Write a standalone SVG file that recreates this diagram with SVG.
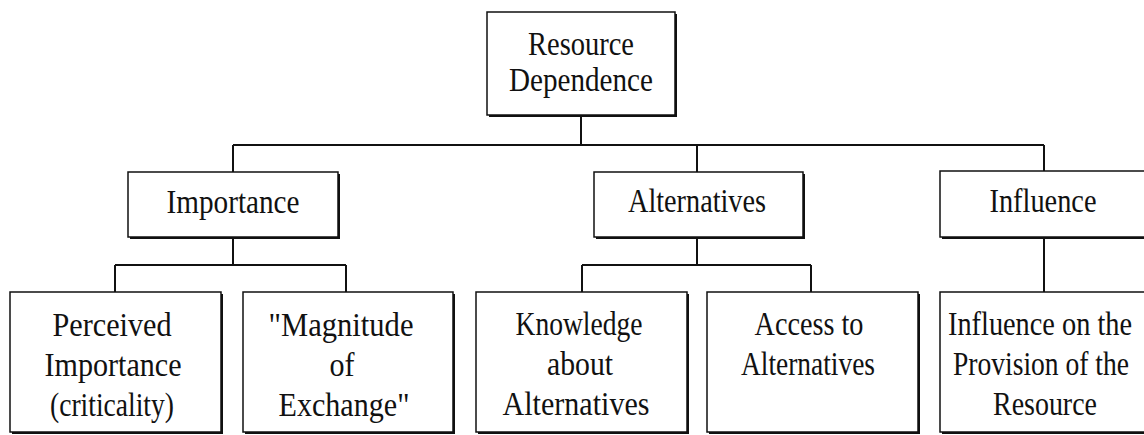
<svg xmlns="http://www.w3.org/2000/svg" width="1144" height="435" viewBox="0 0 1144 435">
<style>
.box{fill:#fff;stroke:#111;stroke-width:1.5}
.sh{fill:#111}
.t{font-family:"Liberation Serif","Times New Roman",serif;font-size:33px;fill:#111;text-anchor:middle}
.c{fill:none;stroke:#111;stroke-width:2}
</style>
<rect width="1144" height="435" fill="#fff"/>
<g id="connectors">
<path class="c" d="M581 115V145M233 145H1044M233 145V172M697 145V172M1044 145V171"/>
<path class="c" d="M233 237V265M115 265H346M115 265V292M346 265V292"/>
<path class="c" d="M697 237V265M582 265H811M582 265V292M811 265V292"/>
<path class="c" d="M1044 237V292"/>
</g>
<g id="resource-dependence">
<rect class="sh" x="489" y="14" width="188" height="103"/>
<rect class="box" x="487" y="12" width="188" height="103"/>
<text class="t" x="581" y="55" textLength="106" lengthAdjust="spacingAndGlyphs">Resource</text>
<text class="t" x="581" y="91" textLength="144" lengthAdjust="spacingAndGlyphs">Dependence</text>
</g>
<g id="importance">
<rect class="sh" x="130" y="174" width="210" height="65"/>
<rect class="box" x="128" y="172" width="210" height="65"/>
<text class="t" x="233" y="213" textLength="133" lengthAdjust="spacingAndGlyphs">Importance</text>
</g>
<g id="alternatives">
<rect class="sh" x="596" y="174" width="209" height="65"/>
<rect class="box" x="594" y="172" width="209" height="65"/>
<text class="t" x="697" y="212" textLength="138" lengthAdjust="spacingAndGlyphs">Alternatives</text>
</g>
<g id="influence">
<rect class="sh" x="942" y="173" width="210" height="66"/>
<rect class="box" x="940" y="171" width="210" height="66"/>
<text class="t" x="1043" y="212" textLength="107" lengthAdjust="spacingAndGlyphs">Influence</text>
</g>
<g id="perceived-importance">
<rect class="sh" x="12" y="294" width="211" height="140"/>
<rect class="box" x="10" y="292" width="211" height="140"/>
<text class="t" x="112" y="336" textLength="119" lengthAdjust="spacingAndGlyphs">Perceived</text>
<text class="t" x="113" y="376" textLength="137" lengthAdjust="spacingAndGlyphs">Importance</text>
<text class="t" x="112" y="416" textLength="124" lengthAdjust="spacingAndGlyphs">(criticality)</text>
</g>
<g id="magnitude-of-exchange">
<rect class="sh" x="245" y="294" width="210" height="140"/>
<rect class="box" x="243" y="292" width="210" height="140"/>
<text class="t" x="341" y="336" textLength="145" lengthAdjust="spacingAndGlyphs">"Magnitude</text>
<text class="t" x="342" y="376" textLength="25" lengthAdjust="spacingAndGlyphs">of</text>
<text class="t" x="344" y="416" textLength="131" lengthAdjust="spacingAndGlyphs">Exchange"</text>
</g>
<g id="knowledge-about-alternatives">
<rect class="sh" x="478" y="294" width="211" height="140"/>
<rect class="box" x="476" y="292" width="211" height="140"/>
<text class="t" x="579" y="335" textLength="127" lengthAdjust="spacingAndGlyphs">Knowledge</text>
<text class="t" x="580" y="375" textLength="66" lengthAdjust="spacingAndGlyphs">about</text>
<text class="t" x="576" y="415" textLength="147" lengthAdjust="spacingAndGlyphs">Alternatives</text>
</g>
<g id="access-to-alternatives">
<rect class="sh" x="709" y="294" width="211" height="140"/>
<rect class="box" x="707" y="292" width="211" height="140"/>
<text class="t" x="809" y="335" textLength="109" lengthAdjust="spacingAndGlyphs">Access to</text>
<text class="t" x="808" y="375" textLength="134" lengthAdjust="spacingAndGlyphs">Alternatives</text>
</g>
<g id="influence-on-provision">
<rect class="sh" x="942" y="294" width="210" height="140"/>
<rect class="box" x="940" y="292" width="210" height="140"/>
<text class="t" x="1040" y="335" textLength="184" lengthAdjust="spacingAndGlyphs">Influence on the</text>
<text class="t" x="1041" y="375" textLength="176" lengthAdjust="spacingAndGlyphs">Provision of the</text>
<text class="t" x="1045" y="415" textLength="104" lengthAdjust="spacingAndGlyphs">Resource</text>
</g>
</svg>
